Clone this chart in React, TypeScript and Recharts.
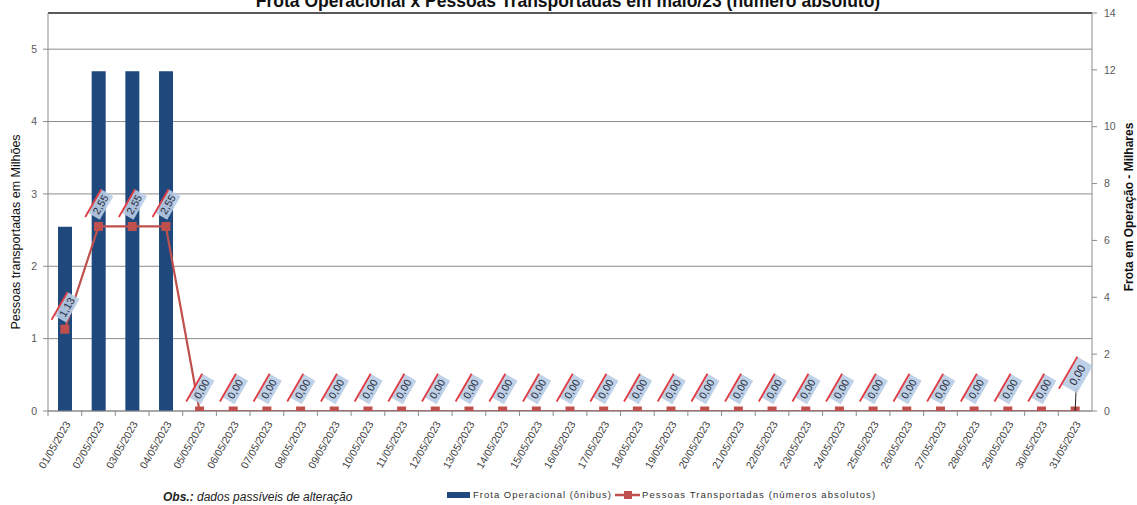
import React from "react";
import {
  ComposedChart,
  Bar,
  Line,
  XAxis,
  YAxis,
  CartesianGrid,
  ReferenceLine,
  LabelList,
} from "recharts";

// dias de maio/23
const dias = [
  "01/05/2023", "02/05/2023", "03/05/2023", "04/05/2023", "05/05/2023",
  "06/05/2023", "07/05/2023", "08/05/2023", "09/05/2023", "10/05/2023",
  "11/05/2023", "12/05/2023", "13/05/2023", "14/05/2023", "15/05/2023",
  "16/05/2023", "17/05/2023", "18/05/2023", "19/05/2023", "20/05/2023",
  "21/05/2023", "22/05/2023", "23/05/2023", "24/05/2023", "25/05/2023",
  "26/05/2023", "27/05/2023", "28/05/2023", "29/05/2023", "30/05/2023",
  "31/05/2023",
];

// frota operacional (milhares de ônibus) - eixo direito
const frota: (number | null)[] = [
  6.48, 11.95, 11.95, 11.95, null, null, null, null, null, null,
  null, null, null, null, null, null, null, null, null, null,
  null, null, null, null, null, null, null, null, null, null, null,
];

// pessoas transportadas (milhões) - eixo esquerdo
const pessoas = [
  1.13, 2.55, 2.55, 2.55, 0, 0, 0, 0, 0, 0,
  0, 0, 0, 0, 0, 0, 0, 0, 0, 0,
  0, 0, 0, 0, 0, 0, 0, 0, 0, 0, 0,
];

const leftTicks = [0, 1, 2, 3, 4, 5];
const rightTicks = [0, 2, 4, 6, 8, 10, 12, 14];

const data = dias.map((dia, i) => ({ dia, frota: frota[i], pessoas: pessoas[i] }));

const W = 1137;
const H = 505;
const PLOT_LEFT = 48;
const PLOT_RIGHT = 1092;
const BAND = (PLOT_RIGHT - PLOT_LEFT) / dias.length;

const BLUE = "#1f497d";
const RED = "#c0504d";
const GRID = "#8c8c8c";
const FONT = "'Liberation Sans', Arial, sans-serif";

function fmt(v: number) {
  return v.toFixed(2).replace(".", ",");
}

function DateTick(props: any) {
  const { x, y, payload } = props;
  return (
    <g transform={`translate(${x},${y})`}>
      <line x1={-BAND / 2} y1={0} x2={-BAND / 2} y2={5} stroke={GRID} />
      <text
        x={0}
        y={0}
        transform="translate(6,13) rotate(-60)"
        textAnchor="end"
        fontSize={10.5}
        fill="#404040"
        fontFamily={FONT}
      >
        {payload.value}
      </text>
    </g>
  );
}

function SquareDot(props: any) {
  const { cx, cy } = props;
  if (cx == null || cy == null) return null;
  return <rect x={cx - 4.5} y={cy - 4.5} width={9} height={9} fill={RED} />;
}

function ValueLabel(props: any) {
  const { x, y, value, index } = props;
  const last = index === pessoas.length - 1;
  const dy = last ? 36 : 22;
  const cx = x + 2;
  const cy = y - dy;
  const w = last ? 32 : 27;
  const h = last ? 18 : 14;
  return (
    <g>
      {last && <line x1={x} y1={y} x2={x + 1} y2={cy + 13} stroke="#222" />}
      <g transform={`translate(${cx},${cy}) rotate(-60)`}>
        <rect x={-w / 2} y={-h / 2} width={w} height={h} fill="#b8cce4" opacity={0.9} />
        <line x1={-w / 2 - 5} y1={-h / 2} x2={w / 2} y2={-h / 2} stroke="#e03c44" strokeWidth={1.8} />
        <text
          x={0}
          y={0}
          dy="0.35em"
          textAnchor="middle"
          fontSize={last ? 11 : 10.5}
          fill="#1f2a3a"
          fontFamily={FONT}
        >
          {fmt(Number(value))}
        </text>
      </g>
    </g>
  );
}

export default function App() {
  return (
    <div style={{ position: "relative", width: W, height: H }}>
      <style>{"body{margin:0}"}</style>
      <ComposedChart
        width={W}
        height={H}
        data={data}
        margin={{ top: 13, right: 0, bottom: 0, left: 0 }}
      >
        <CartesianGrid yAxisId="left" vertical={false} stroke={GRID} horizontalValues={leftTicks} />
        <XAxis
          dataKey="dia"
          interval={0}
          height={94}
          tickSize={0}
          tickMargin={0}
          tick={<DateTick />}
          axisLine={{ stroke: GRID }}
          tickLine={false}
        />
        <YAxis
          yAxisId="left"
          width={48}
          domain={[0, 5.5]}
          ticks={leftTicks}
          allowDataOverflow
          tick={{ fontSize: 10.5, fill: "#595959", fontFamily: FONT }}
          tickSize={5}
          tickMargin={6}
          axisLine={{ stroke: GRID }}
          tickLine={{ stroke: GRID }}
        />
        <YAxis
          yAxisId="right"
          orientation="right"
          width={45}
          domain={[0, 14]}
          ticks={rightTicks}
          tick={{ fontSize: 10.5, fill: "#595959", fontFamily: FONT }}
          tickSize={5}
          tickMargin={7}
          axisLine={{ stroke: GRID }}
          tickLine={{ stroke: GRID }}
        />
        <ReferenceLine yAxisId="left" y={5.5} stroke="#222" strokeWidth={1.5} />
        <Bar
          yAxisId="right"
          dataKey="frota"
          fill={BLUE}
          barSize={14}
          isAnimationActive={false}
        />
        <Line
          yAxisId="left"
          dataKey="pessoas"
          stroke={RED}
          strokeWidth={2.2}
          dot={<SquareDot />}
          activeDot={false}
          isAnimationActive={false}
        >
          <LabelList dataKey="pessoas" content={<ValueLabel />} />
        </Line>
      </ComposedChart>
      <svg
        width={W}
        height={H}
        style={{ position: "absolute", left: 0, top: 0, pointerEvents: "none" }}
        fontFamily={FONT}
      >
        <text x={568} y={7} textAnchor="middle" fontSize={17.5} fontWeight="bold" fill="#111">
          Frota Operacional x Pessoas Transportadas em maio/23 (número absoluto)
        </text>
        <text
          transform="translate(20,232) rotate(-90)"
          textAnchor="middle"
          fontSize={12.5}
          fill="#111"
        >
          Pessoas transportadas em Milhões
        </text>
        <text
          transform="translate(1133,207) rotate(-90)"
          textAnchor="middle"
          fontSize={12}
          fontWeight="bold"
          fill="#111"
        >
          Frota  em Operação - Milhares
        </text>
        <text x={163} y={501} fontSize={12} fontStyle="italic" fill="#222">
          <tspan fontWeight="bold">Obs.:</tspan> dados passíveis de alteração
        </text>
        <rect x={447} y={492} width={23} height={6} fill={BLUE} />
        <text x={473} y={498} fontSize={9.5} fill="#333" letterSpacing={1}>
          Frota Operacional (ônibus)
        </text>
        <line x1={615} y1={495} x2={640} y2={495} stroke={RED} strokeWidth={2.5} />
        <rect x={624} y={491} width={8} height={8} fill={RED} />
        <text x={642} y={498} fontSize={9.5} fill="#333" letterSpacing={1.1}>
          Pessoas Transportadas (números absolutos)
        </text>
      </svg>
    </div>
  );
}
